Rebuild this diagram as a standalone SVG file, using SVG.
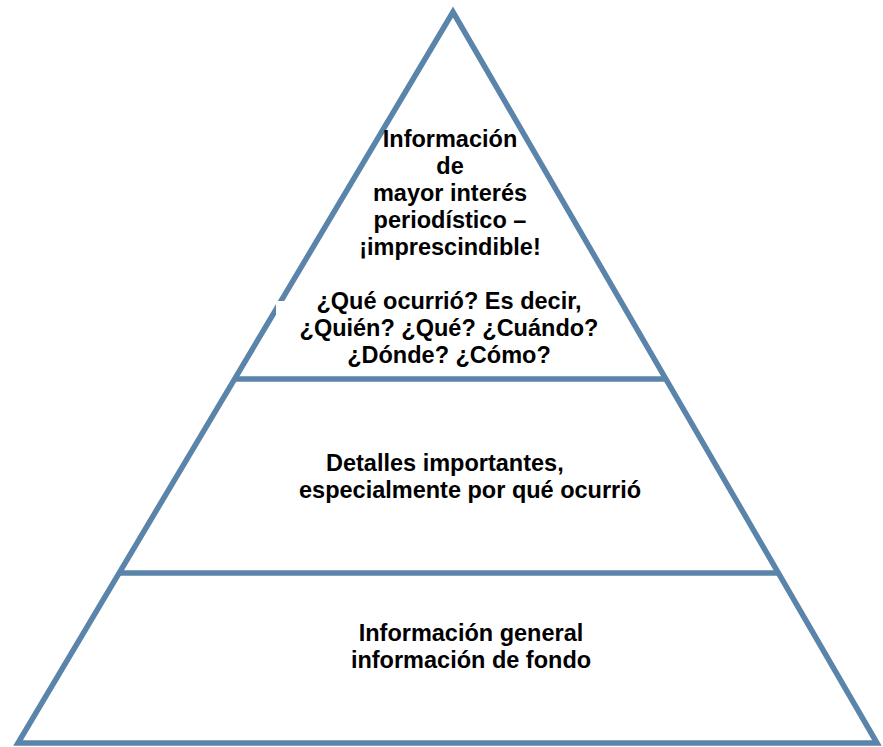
<svg xmlns="http://www.w3.org/2000/svg" width="883" height="747" viewBox="0 0 883 747">
<style>
.edge{fill:none;stroke:#5a84aa;stroke-width:5.5;stroke-linejoin:miter;stroke-miterlimit:10}
.t{font-family:"Liberation Sans",Arial,sans-serif;font-weight:bold;font-size:23.5px;fill:#000}
.c{text-anchor:middle}
</style>
<rect width="883" height="747" fill="#ffffff"/>
<g id="pyramid">
<polygon class="edge" points="453,12 18,743 877,743"/>
<line class="edge" x1="236" y1="379" x2="665" y2="379"/>
<line class="edge" x1="120" y1="573" x2="778" y2="573"/>
</g>
<g id="tier-top">
<rect x="276" y="301" width="340" height="70" fill="#ffffff"/>
<text class="t c" x="450" y="147">Información</text>
<text class="t c" x="450" y="174">de</text>
<text class="t c" x="450" y="201">mayor interés</text>
<text class="t c" x="450" y="228">periodístico –</text>
<text class="t c" x="450" y="255">¡imprescindible!</text>
<text class="t c" x="449" y="309">¿Qué ocurrió? Es decir,</text>
<text class="t c" x="449" y="336">¿Quién? ¿Qué? ¿Cuándo?</text>
<text class="t c" x="449" y="363">¿Dónde? ¿Cómo?</text>
</g>
<g id="tier-middle">
<text class="t" x="326" y="471">Detalles importantes,</text>
<text class="t" x="299" y="498">especialmente por qué ocurrió</text>
</g>
<g id="tier-bottom">
<text class="t c" x="471" y="641">Información general</text>
<text class="t c" x="471" y="668">información de fondo</text>
</g>
</svg>
